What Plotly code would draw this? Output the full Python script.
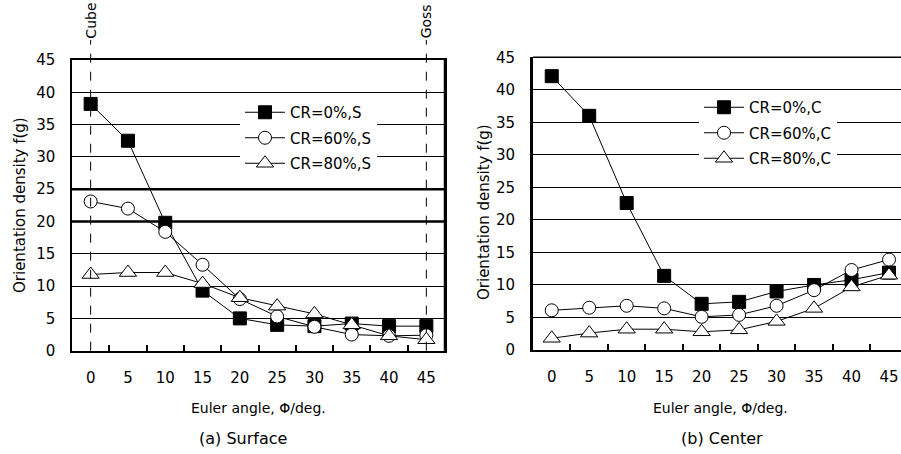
import plotly.graph_objects as go

angles = ["0", "5", "10", "15", "20", "25", "30", "35", "40", "45"]

surf_cr0 = [38.2, 32.5, 19.8, 9.3, 5.0, 4.0, 3.8, 4.2, 3.8, 3.8]
surf_cr60 = [23.1, 22.0, 18.4, 13.3, 8.0, 5.3, 3.7, 2.5, 2.3, 2.4]
surf_cr80 = [11.8, 12.1, 12.1, 10.4, 8.2, 6.9, 5.7, 4.0, 2.3, 1.7]

cent_cr0 = [42.1, 36.0, 22.6, 11.4, 7.1, 7.4, 9.0, 10.0, 10.8, 11.9]
cent_cr60 = [6.1, 6.5, 6.8, 6.4, 5.1, 5.4, 6.8, 9.2, 12.3, 13.9]
cent_cr80 = [1.8, 2.6, 3.2, 3.2, 2.8, 3.1, 4.4, 6.4, 9.7, 11.5]

surf_names = ["CR=0%,S", "CR=60%,S", "CR=80%,S"]
cent_names = ["CR=0%,C", "CR=60%,C", "CR=80%,C"]
y_ticks = [0, 5, 10, 15, 20, 25, 30, 35, 40, 45]
markers_at = [("Cube", 0), ("Goss", 9)]  # category index of the Cube / Goss angles

FONT = "DejaVu Sans"
W, H = 901, 454

def px(x):
    return x / W

def py(y):
    return (H - y) / H

styles = [
    dict(symbol="square", size=13, color="black", line=dict(color="black", width=1)),
    dict(symbol="circle", size=13, color="white", line=dict(color="black", width=1)),
    dict(symbol="triangle-up", size=15, color="white", line=dict(color="black", width=1)),
]

fig = go.Figure()

for i, (vals, name) in enumerate(zip([surf_cr0, surf_cr60, surf_cr80], surf_names)):
    fig.add_trace(go.Scatter(x=angles, y=vals, name=name, mode="lines+markers",
                             line=dict(color="black", width=1), marker=styles[i],
                             xaxis="x", yaxis="y", legend="legend", legendgroup="s%d" % i,
                             cliponaxis=False))
for i, (vals, name) in enumerate(zip([cent_cr0, cent_cr60, cent_cr80], cent_names)):
    fig.add_trace(go.Scatter(x=angles, y=vals, name=name, mode="lines+markers",
                             line=dict(color="black", width=1), marker=styles[i],
                             xaxis="x2", yaxis="y2", legend="legend2", legendgroup="c%d" % i,
                             cliponaxis=False))

xcommon = dict(type="category", categoryarray=angles, tickson="boundaries", ticks="inside",
               ticklen=6, tickcolor="black", tickwidth=1.5, showgrid=False, showline=True,
               linecolor="black", linewidth=2, ticklabelstandoff=12, automargin=False,
               tickfont=dict(family=FONT, size=15, color="black"), zeroline=False)
ycommon = dict(range=[0, 45], tickvals=y_ticks, ticks="", showgrid=True, gridcolor="black",
               gridwidth=1, showline=True, linecolor="black", zeroline=False, automargin=False,
               ticklabelstandoff=12, tickfont=dict(family=FONT, size=15, color="black"))

legcommon = dict(bgcolor="white", borderwidth=0, font=dict(family=FONT, size=15, color="black"),
                 traceorder="grouped", tracegroupgap=3, xanchor="left", yanchor="top",
                 itemwidth=40)

fig.update_layout(
    template="none",
    width=W, height=H, margin=dict(l=0, r=0, t=0, b=0),
    plot_bgcolor="white", paper_bgcolor="white",
    xaxis=dict(domain=[px(72), px(445)], range=[-0.5, 9.5], anchor="y", mirror=True, **xcommon),
    yaxis=dict(domain=[py(350.7), py(60)], anchor="x", mirror=True, linewidth=1.5, **ycommon),
    xaxis2=dict(domain=[px(533), 1.0], range=[-0.5, 9.32], anchor="y2", **xcommon),
    yaxis2=dict(domain=[py(350), py(57.3)], anchor="x2", linewidth=3, **ycommon),
    legend=dict(x=px(240), y=py(96), **legcommon),
    legend2=dict(x=px(699), y=py(91), **legcommon),
    showlegend=True,
)

shapes = []
for v in (20, 25):
    shapes.append(dict(type="line", xref="x domain", yref="y", x0=0, x1=1, y0=v, y1=v,
                       line=dict(color="black", width=2.5), layer="below"))
shapes.append(dict(type="line", xref="x2 domain", yref="y2 domain", x0=0, x1=1, y0=1, y1=1,
                   line=dict(color="black", width=1.5)))
shapes.append(dict(type="line", xref="x domain", yref="y domain", x0=1, x1=1, y0=0, y1=1,
                   line=dict(color="black", width=2.5)))
for txt, idx in markers_at:
    shapes.append(dict(type="line", xref="x", yref="paper", x0=idx, x1=idx,
                       y0=py(350.7), y1=py(40),
                       line=dict(color="black", width=1, dash="dash")))
fig.update_layout(shapes=shapes)

def note(x, y, text, size, angle=0):
    return dict(x=px(x), y=py(y), xref="paper", yref="paper", text=text, textangle=angle,
                showarrow=False, xanchor="center", yanchor="middle",
                font=dict(family=FONT, size=size, color="black"))

ann = []
for txt, idx in markers_at:
    ann.append(dict(x=idx, xref="x", y=py(21), yref="paper", text=txt, textangle=-90,
                    showarrow=False, xanchor="center", yanchor="middle",
                    font=dict(family=FONT, size=14, color="black")))
ann += [
    note(258, 408, "Euler angle, Φ/deg.", 14),
    note(720, 408, "Euler angle, Φ/deg.", 14),
    note(243, 438, "(a) Surface", 16),
    note(722, 438, "(b) Center", 16),
    note(20, 205, "Orientation density f(g)", 15, -90),
    note(484, 212, "Orientation density f(g)", 15, -90),
]
fig.update_layout(annotations=ann)

fig.write_html("out.html")
